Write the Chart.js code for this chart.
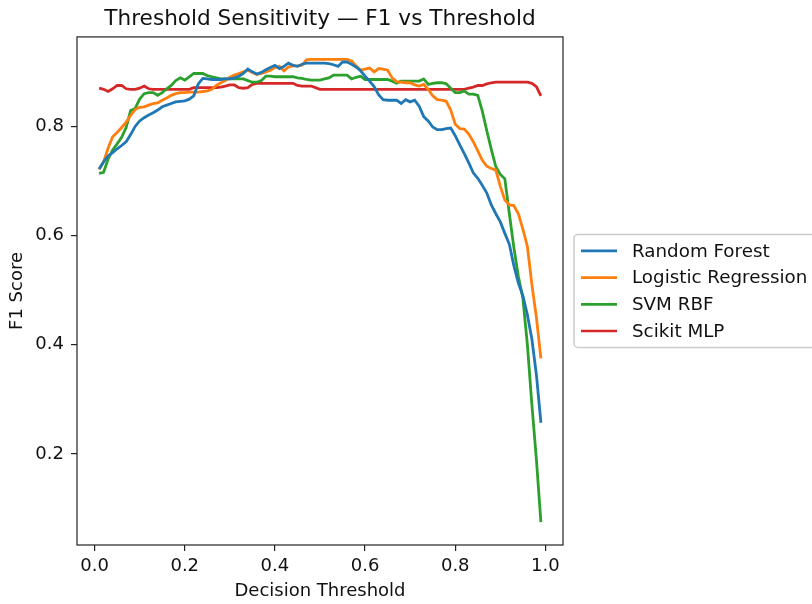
<!DOCTYPE html>
<html lang="en">
<head>
<meta charset="UTF-8">
<title>Threshold Sensitivity — F1 vs Threshold</title>
<script src="https://cdn.jsdelivr.net/npm/chart.js"></script>
<style>
body { margin: 0; background: #fff; }
.displayChart { width: 812px; height: 604px; position: relative; }
</style>
</head>
<body>
<div class="displayChart">
	<canvas id="f1Chart"></canvas>
</div>
<script>
// decision thresholds (x)
const thresholds = [
	0.01, 0.02, 0.03, 0.04, 0.05, 0.06, 0.07, 0.08, 0.09, 0.10,
	0.11, 0.12, 0.13, 0.14, 0.15, 0.16, 0.17, 0.18, 0.19, 0.20,
	0.21, 0.22, 0.23, 0.24, 0.25, 0.26, 0.27, 0.28, 0.29, 0.30,
	0.31, 0.32, 0.33, 0.34, 0.35, 0.36, 0.37, 0.38, 0.39, 0.40,
	0.41, 0.42, 0.43, 0.44, 0.45, 0.46, 0.47, 0.48, 0.49, 0.50,
	0.51, 0.52, 0.53, 0.54, 0.55, 0.56, 0.57, 0.58, 0.59, 0.60,
	0.61, 0.62, 0.63, 0.64, 0.65, 0.66, 0.67, 0.68, 0.69, 0.70,
	0.71, 0.72, 0.73, 0.74, 0.75, 0.76, 0.77, 0.78, 0.79, 0.80,
	0.81, 0.82, 0.83, 0.84, 0.85, 0.86, 0.87, 0.88, 0.89, 0.90,
	0.91, 0.92, 0.93, 0.94, 0.95, 0.96, 0.97, 0.98, 0.99
];

const randomForest = [
	0.722, 0.735, 0.746, 0.752, 0.759, 0.765, 0.772, 0.785, 0.800, 0.810,
	0.816, 0.821, 0.825, 0.830, 0.836, 0.839, 0.842, 0.845, 0.846, 0.847,
	0.850, 0.856, 0.878, 0.888, 0.887, 0.886, 0.886, 0.886, 0.887, 0.887,
	0.889, 0.892, 0.897, 0.905, 0.900, 0.896, 0.899, 0.904, 0.908, 0.912,
	0.906, 0.910, 0.916, 0.912, 0.910, 0.914, 0.916, 0.916, 0.916, 0.916,
	0.916, 0.915, 0.913, 0.910, 0.918, 0.918, 0.914, 0.909, 0.902, 0.892,
	0.883, 0.873, 0.858, 0.849, 0.848, 0.848, 0.848, 0.842, 0.849, 0.845,
	0.848, 0.837, 0.818, 0.810, 0.799, 0.794, 0.794, 0.796, 0.797, 0.783,
	0.766, 0.750, 0.733, 0.715, 0.705, 0.692, 0.678, 0.656, 0.640, 0.625,
	0.604, 0.584, 0.545, 0.513, 0.490, 0.455, 0.410, 0.345, 0.257
];

const logisticRegression = [
	0.721, 0.735, 0.760, 0.781, 0.789, 0.798, 0.808, 0.820, 0.831, 0.835,
	0.836, 0.839, 0.842, 0.843, 0.848, 0.852, 0.857, 0.860, 0.862, 0.862,
	0.863, 0.863, 0.863, 0.864, 0.865, 0.868, 0.875, 0.880, 0.884, 0.890,
	0.894, 0.897, 0.900, 0.903, 0.899, 0.895, 0.897, 0.900, 0.903, 0.908,
	0.910, 0.902, 0.909, 0.911, 0.911, 0.912, 0.922, 0.923, 0.923, 0.923,
	0.923, 0.923, 0.923, 0.923, 0.923, 0.923, 0.920, 0.911, 0.903, 0.905,
	0.907, 0.900, 0.906, 0.905, 0.903, 0.889, 0.882, 0.881, 0.880, 0.880,
	0.876, 0.874, 0.877, 0.868, 0.856, 0.849, 0.848, 0.846, 0.830, 0.804,
	0.796, 0.795, 0.786, 0.772, 0.755, 0.738, 0.727, 0.723, 0.720, 0.690,
	0.665, 0.656, 0.655, 0.640, 0.612, 0.580, 0.510, 0.450, 0.375
];

const svmRbf = [
	0.714, 0.716, 0.740, 0.757, 0.768, 0.780, 0.798, 0.829, 0.833, 0.850,
	0.860, 0.862, 0.862, 0.857, 0.862, 0.869, 0.875, 0.884, 0.889, 0.885,
	0.891, 0.897, 0.897, 0.897, 0.893, 0.891, 0.889, 0.887, 0.887, 0.887,
	0.887, 0.887, 0.887, 0.884, 0.881, 0.881, 0.884, 0.892, 0.892, 0.891,
	0.891, 0.891, 0.891, 0.891, 0.889, 0.888, 0.886, 0.885, 0.885, 0.885,
	0.887, 0.889, 0.894, 0.894, 0.894, 0.894, 0.887, 0.890, 0.892, 0.886,
	0.886, 0.886, 0.886, 0.886, 0.886, 0.883, 0.879, 0.883, 0.883, 0.883,
	0.883, 0.883, 0.887, 0.877, 0.879, 0.880, 0.880, 0.878, 0.870, 0.862,
	0.862, 0.865, 0.859, 0.859, 0.857, 0.828, 0.792, 0.758, 0.726, 0.712,
	0.704, 0.640, 0.578, 0.525, 0.485, 0.400, 0.290, 0.190, 0.075
];

const scikitMlp = [
	0.870, 0.868, 0.864, 0.869, 0.875, 0.875, 0.869, 0.868, 0.868, 0.870,
	0.874, 0.869, 0.868, 0.868, 0.868, 0.868, 0.868, 0.868, 0.868, 0.868,
	0.868, 0.871, 0.871, 0.871, 0.871, 0.871, 0.871, 0.872, 0.874, 0.876,
	0.876, 0.871, 0.870, 0.871, 0.877, 0.879, 0.879, 0.879, 0.879, 0.879,
	0.879, 0.879, 0.879, 0.879, 0.875, 0.874, 0.874, 0.874, 0.871, 0.868,
	0.868, 0.868, 0.868, 0.868, 0.868, 0.868, 0.868, 0.868, 0.868, 0.868,
	0.868, 0.868, 0.868, 0.868, 0.868, 0.868, 0.868, 0.868, 0.868, 0.868,
	0.868, 0.868, 0.868, 0.868, 0.868, 0.868, 0.868, 0.868, 0.868, 0.868,
	0.868, 0.868, 0.870, 0.872, 0.875, 0.875, 0.878, 0.880, 0.881, 0.881,
	0.881, 0.881, 0.881, 0.881, 0.881, 0.881, 0.879, 0.873, 0.856
];

const seriesNames = ['Random Forest', 'Logistic Regression', 'SVM RBF', 'Scikit MLP'];
const seriesColors = ['#1f77b4', '#ff7f0e', '#2ca02c', '#d62728'];
const xTicks = [0.0, 0.2, 0.4, 0.6, 0.8, 1.0];
const yTicks = [0.2, 0.4, 0.6, 0.8];

const allSeries = [randomForest, logisticRegression, svmRbf, scikitMlp];

Chart.defaults.font.family = '"DejaVu Sans", sans-serif';
Chart.defaults.font.size = 18;
Chart.defaults.color = '#111';

// matplotlib-like frame around the axes
const frame = {
	id: 'frame',
	afterDatasetsDraw(chart) {
		const { ctx, chartArea: a } = chart;
		ctx.save();
		ctx.strokeStyle = '#222';
		ctx.lineWidth = 1.2;
		ctx.strokeRect(a.left, a.top, a.right - a.left, a.bottom - a.top);
		ctx.restore();
	}
};

// legend outside on the right, boxed (runs off the canvas edge like the original)
const legendBox = {
	id: 'legendBox',
	afterDraw(chart) {
		const { ctx, chartArea } = chart;
		const sets = chart.data.datasets;
		const rowH = 26.7;
		const h = 33 + (sets.length - 1) * rowH;
		const x0 = chartArea.right + 11;
		const y0 = (chartArea.top + chartArea.bottom) / 2 - h / 2;
		ctx.save();
		ctx.font = '18.3px "DejaVu Sans"';
		let w = 0;
		sets.forEach(d => { w = Math.max(w, ctx.measureText(d.label).width); });
		ctx.beginPath();
		ctx.roundRect(x0, y0, 8 + 36 + 14 + w + 12, h, 4);
		ctx.fillStyle = 'rgba(255,255,255,0.8)';
		ctx.fill();
		ctx.strokeStyle = '#cccccc';
		ctx.lineWidth = 1.5;
		ctx.stroke();
		sets.forEach((d, i) => {
			const cy = y0 + 16.5 + i * rowH;
			ctx.strokeStyle = d.borderColor;
			ctx.lineWidth = 2.7;
			ctx.beginPath();
			ctx.moveTo(x0 + 7, cy);
			ctx.lineTo(x0 + 43, cy);
			ctx.stroke();
			ctx.fillStyle = '#111';
			ctx.textBaseline = 'middle';
			ctx.textAlign = 'left';
			ctx.fillText(d.label, x0 + 58, cy + 1);
		});
		ctx.restore();
	}
};

const ctx = document.getElementById('f1Chart').getContext('2d');
const myChart = new Chart(ctx, {
	type: 'line',
	data: {
		datasets: allSeries.map((vals, i) => ({
			label: seriesNames[i],
			data: thresholds.map((t, j) => ({ x: t, y: vals[j] })),
			borderColor: seriesColors[i],
			backgroundColor: seriesColors[i],
			borderWidth: 2.8,
			pointRadius: 0,
			tension: 0,
			fill: false
		}))
	},
	options: {
		responsive: true,
		maintainAspectRatio: false,
		animation: false,
		layout: { padding: { left: 0, right: 249, top: 0, bottom: 0 } },
		plugins: {
			legend: { display: false },
			tooltip: { enabled: false },
			title: {
				display: true,
				fullSize: false,
				text: 'Threshold Sensitivity — F1 vs Threshold',
				font: { size: 21.6, weight: 'normal' },
				color: '#111',
				padding: { top: 6, bottom: 5 }
			}
		},
		scales: {
			x: {
				type: 'linear',
				min: -0.039,
				max: 1.039,
				afterBuildTicks: s => { s.ticks = xTicks.map(v => ({ value: v })); },
				afterFit: s => { s.height = 59; },
				ticks: {
					padding: 5,
					maxRotation: 0,
					callback: v => v.toFixed(1)
				},
				grid: { drawOnChartArea: false, drawTicks: true, tickLength: 6, color: '#222', lineWidth: 1.2 },
				border: { display: false },
				title: { display: true, text: 'Decision Threshold', padding: { top: 0, bottom: 2 } }
			},
			y: {
				type: 'linear',
				min: 0.033,
				max: 0.964,
				afterBuildTicks: s => { s.ticks = yTicks.map(v => ({ value: v })); },
				afterFit: s => { s.width = 77; },
				ticks: {
					padding: 7,
					callback: v => v.toFixed(1)
				},
				grid: { drawOnChartArea: false, drawTicks: true, tickLength: 6, color: '#222', lineWidth: 1.2 },
				border: { display: false },
				title: { display: true, text: 'F1 Score', padding: { top: 7, bottom: 0 } }
			}
		}
	},
	plugins: [frame, legendBox]
});
</script>
</body>
</html>
